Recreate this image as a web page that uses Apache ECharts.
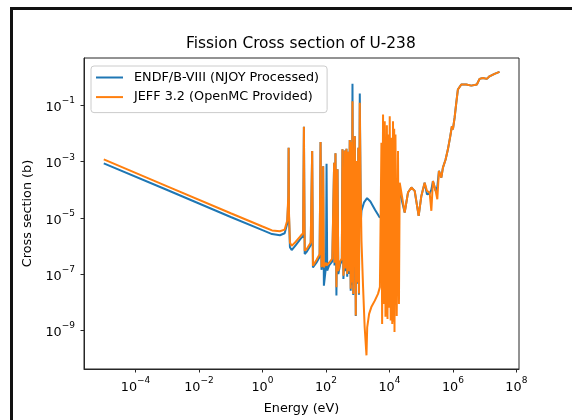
<!DOCTYPE html>
<html>
<head>
<meta charset="utf-8">
<script src="https://cdn.jsdelivr.net/npm/echarts@6/dist/echarts.min.js"></script>
<style>
html,body{margin:0;padding:0;background:#ffffff;}
#chart{width:572px;height:420px;}
</style>
</head>
<body>
<div id="chart"></div>
<script>
// ---------------- data ----------------
const seriesNames = ['ENDF/B-VIII (NJOY Processed)', 'JEFF 3.2 (OpenMC Provided)'];

// Energy (eV) and fission cross section (b), ENDF/B-VIII
const endfEnergy = [1e-5, 1e-3, 0.1, 1, 2.0, 3.55, 5.0, 6.03, 6.53, 6.67, 6.84, 7.33, 8.32, 11.2, 15.8, 19.1, 20.2, 21.4, 25.1, 33.1,
  36.8, 38.9, 50.1, 63.1, 67.6, 72.4, 79.4, 81.7, 86.1, 100, 104.5, 109.6, 125.9, 158.5, 181.1, 186.2, 190.5, 199.5, 213.8, 231.2,
  245.5, 281.8, 316.2, 331.1, 354.8, 375.8, 389.0, 412.1, 443.6, 467.7, 501.2, 524.8, 562.3, 602.6, 631.0, 653.1, 685.5, 724.4, 812.8, 871.0,
  916.2, 1000, 1047, 1096, 1164, 1259, 1318, 1585, 1977, 2512, 3548, 4955, 7943, 12970, 18620, 21090, 30270, 38460, 49200, 62520,
  83370, 101400, 128800, 152100, 184900, 209400, 235000, 285800, 322800, 363100, 431500, 485300, 588800, 696600, 827900, 931100, 1.0e6, 1.13e6, 1.28e6, 1.435e6,
  1.837e6, 2.636e6, 3.793e6, 5.689e6, 6.918e6, 8.77e6, 1.172e7, 1.426e7, 2.046e7, 2.944e7];
const endfXS = [8.71e-4, 9.77e-5, 1.07e-5, 3.63e-6, 2.63e-6, 2.40e-6, 2.82e-6, 6.31e-6, 5.01e-5, 3.16e-3, 1.26e-5, 8.91e-7, 7.08e-7, 1.07e-6, 1.78e-6, 2.24e-6, 1.74e-2, 5.13e-7, 6.31e-7, 1.05e-6,
  2.40e-3, 1.70e-7, 2.51e-7, 3.98e-7, 5.01e-3, 1.41e-7, 3.16e-7, 6.92e-4, 3.80e-8, 1.78e-7, 8.51e-4, 1.32e-7, 2.0e-7, 2.82e-7, 9.12e-4, 2.0e-7, 3.98e-7, 2.0e-3, 1.70e-8, 5.37e-4,
  1.0e-7, 2.24e-7, 2.82e-7, 2.75e-3, 6.61e-8, 2.5e-7, 2.51e-3, 1.26e-7, 2.88e-3, 7.94e-8, 2.24e-3, 1.0e-7, 5.89e-3, 2.51e-8, 5.01e-3, 4.0e-8, 0.603, 1.78e-8, 8.13e-3, 3.16e-9,
  1.05e-3, 4.47e-8, 3.16e-3, 1.8e-8, 0.269, 7.94e-6, 1.78e-5, 3.55e-5, 5.01e-5, 3.80e-5, 1.91e-5, 1.02e-5, 1.78e-5, 3.47e-5, 1.55e-4, 1.78e-4, 1.55e-5, 7.94e-5, 1.20e-4, 9.12e-5,
  1.17e-5, 6.03e-5, 1.78e-4, 6.92e-5, 7.24e-5, 1.0e-4, 2.04e-4, 9.12e-5, 1.26e-4, 4.68e-4, 2.69e-4, 6.17e-4, 1.20e-3, 2.75e-3, 8.13e-3, 1.86e-2, 1.41e-2, 3.63e-2, 0.126, 0.372,
  0.562, 0.562, 0.513, 0.562, 0.891, 0.955, 0.891, 1.10, 1.35, 1.58];

// Energy (eV) and fission cross section (b), JEFF 3.2
const jeffEnergy = [1e-5, 1e-3, 0.1, 1, 2.0, 3.55, 5.0, 6.03, 6.53, 6.67, 6.84, 7.33, 8.32, 11.2, 15.8, 19.1, 20.2, 21.4, 25.1, 33.1,
  36.8, 38.9, 50.1, 63.1, 67.6, 72.4, 79.4, 81.7, 85.1, 100, 104.7, 125.9, 158.5, 181.1, 186.2, 190.5, 199.5, 213.8, 231.2, 245.5,
  281.8, 316.2, 331.1, 354.8, 375.8, 389.0, 412.1, 443.6, 467.7, 501.2, 524.8, 562.3, 602.6, 631.0, 653.1, 685.5, 724.4, 812.8, 871.0, 916.2,
  1000, 1047, 1096, 1164, 1230, 1318, 1479, 1660, 1892, 1995, 2291, 2692, 3467, 4365, 5012, 5598, 5888, 6295, 6761, 7112,
  7500, 8318, 8710, 9036, 9550, 10230, 10960, 11560, 12300, 12970, 13800, 14125, 14450, 15490, 16980, 18620, 19950, 21090, 30270, 38460,
  49200, 62520, 83370, 101400, 128800, 152100, 184900, 209400, 235000, 285800, 322800, 363100, 431500, 485300, 588800, 696600, 827900, 931100, 1.0e6, 1.13e6,
  1.28e6, 1.435e6, 1.837e6, 2.636e6, 3.793e6, 5.689e6, 6.918e6, 8.77e6, 1.172e7, 1.426e7, 2.046e7, 2.944e7];
const jeffXS = [1.21e-3, 1.32e-4, 1.45e-5, 4.9e-6, 3.55e-6, 3.31e-6, 3.8e-6, 7.94e-6, 6.31e-5, 3.16e-3, 1.58e-5, 1.32e-6, 1.0e-6, 1.41e-6, 2.24e-6, 2.82e-6, 1.74e-2, 6.76e-7, 7.94e-7, 1.32e-6,
  2.40e-3, 1.95e-7, 3.16e-7, 5.01e-7, 5.01e-3, 1.74e-7, 3.98e-7, 6.92e-4, 1.74e-7, 2.51e-7, 2.0e-7, 2.51e-7, 3.55e-7, 9.12e-4, 2.5e-7, 5.01e-7, 2.0e-3, 3.39e-8, 5.37e-4, 1.26e-7,
  2.82e-7, 3.55e-7, 2.75e-3, 8.71e-8, 3.2e-7, 2.51e-3, 1.58e-7, 2.88e-3, 1.0e-7, 2.24e-3, 1.26e-7, 5.89e-3, 2.95e-8, 5.01e-3, 5.0e-8, 0.141, 1.95e-8, 8.13e-3, 3.31e-9, 1.05e-3,
  5.01e-8, 3.16e-3, 2.0e-8, 0.126, 1.55e-4, 1.51e-6, 3.39e-8, 1.26e-9, 1.26e-10, 1.26e-9, 3.80e-9, 6.61e-9, 1.12e-8, 1.95e-8, 3.39e-8, 4.68e-3, 1.66e-9, 4.79e-2, 8.51e-9, 2.75e-2,
  3.0e-9, 2.0e-2, 2.5e-9, 9.33e-3, 6.31e-9, 4.17e-2, 2.19e-9, 7.08e-3, 1.66e-9, 2.75e-2, 2.0e-9, 1.5e-2, 8.51e-10, 9.33e-3, 3.16e-9, 2.40e-3, 8.51e-9, 1.78e-4, 1.55e-5, 7.94e-5,
  1.20e-4, 9.12e-5, 1.17e-5, 6.03e-5, 1.78e-4, 9.12e-5, 7.94e-5, 1.78e-5, 2.04e-4, 9.12e-5, 4.57e-5, 4.68e-4, 2.69e-4, 6.17e-4, 1.20e-3, 2.75e-3, 8.13e-3, 1.86e-2, 1.41e-2, 3.63e-2,
  0.126, 0.372, 0.562, 0.562, 0.513, 0.562, 0.891, 0.955, 0.891, 1.10, 1.35, 1.58];

// tick positions (decades) shown on the axes
const xTicks = [1e-4, 1e-2, 1, 1e2, 1e4, 1e6, 1e8];
const yTicks = [1e-9, 1e-7, 1e-5, 1e-3, 1e-1];

// ---------------- chart ----------------
const FONT = 'DejaVu Sans';
const INK = '#262626';

function zip(xs, ys) { return xs.map(function (x, i) { return [x, ys[i]]; }); }
function powLabel(v) {
  const p = Math.round(Math.log10(v));
  return '{b|10}{s|' + (p < 0 ? '\u2212' : '') + Math.abs(p) + '}';
}
const richLabel = {
  b: { fontFamily: FONT, fontSize: 12.8, color: '#000', lineHeight: 18, verticalAlign: 'bottom' },
  s: { fontFamily: FONT, fontSize: 9, color: '#000', lineHeight: 11, verticalAlign: 'top' }
};

const chart = echarts.init(document.getElementById('chart'), null, { renderer: 'canvas' });
chart.setOption({
  animation: false,
  backgroundColor: '#ffffff',
  title: {
    text: 'Fission Cross section of U-238',
    left: 186, top: 36,
    padding: 0,
    textStyle: { fontFamily: FONT, fontSize: 15.4, fontWeight: 'normal', color: '#000' }
  },
  grid: { left: 84, top: 58, width: 435, height: 312, show: true, borderColor: INK, borderWidth: 1, backgroundColor: 'transparent', containLabel: false },
  legend: {
    orient: 'vertical', left: 91, top: 66,
    itemWidth: 27, itemHeight: 14, itemGap: 6.6,
    padding: [5, 8, 9, 4],
    backgroundColor: 'rgba(255,255,255,0.8)', borderColor: '#cccccc', borderWidth: 1, borderRadius: 3,
    itemStyle: { opacity: 0, borderWidth: 0 },
    lineStyle: { width: 2, opacity: 1 },
    textStyle: { fontFamily: FONT, fontSize: 12.8, color: '#000', padding: [0, 0, 0, 6] },
    data: seriesNames
  },
  xAxis: {
    type: 'log', logBase: 10,
    min: 2.38e-6, max: 1.21e8,
    name: 'Energy (eV)', nameLocation: 'middle', nameGap: 33,
    nameTextStyle: { fontFamily: FONT, fontSize: 12.8, color: '#000' },
    axisLine: { show: true, lineStyle: { color: INK, width: 1 } },
    axisTick: { show: true, inside: false, length: 3.5, lineStyle: { color: INK, width: 1 }, customValues: xTicks },
    axisLabel: { show: true, customValues: xTicks, formatter: powLabel, margin: 7, rich: richLabel },
    minorTick: { show: false },
    splitLine: { show: false }
  },
  yAxis: {
    type: 'log', logBase: 10,
    min: 4.11e-11, max: 4.94,
    name: 'Cross section (b)', nameLocation: 'middle', nameGap: 36,
    nameTextStyle: { fontFamily: FONT, fontSize: 12.8, color: '#000' },
    axisLine: { show: true, lineStyle: { color: INK, width: 1 } },
    axisTick: { show: true, inside: false, length: 3.5, lineStyle: { color: INK, width: 1 }, customValues: yTicks },
    axisLabel: { show: true, customValues: yTicks, formatter: powLabel, margin: 9, rich: richLabel },
    minorTick: { show: false },
    splitLine: { show: false }
  },
  series: [
    {
      name: seriesNames[0], type: 'line', data: zip(endfEnergy, endfXS),
      symbol: 'none', showSymbol: false, clip: true, z: 2,
      lineStyle: { width: 2, color: '#1f77b4' }, itemStyle: { color: '#1f77b4' }
    },
    {
      name: seriesNames[1], type: 'line', data: zip(jeffEnergy, jeffXS),
      symbol: 'none', showSymbol: false, clip: true, z: 3,
      lineStyle: { width: 2, color: '#ff7f0e' }, itemStyle: { color: '#ff7f0e' }
    }
  ],
  graphic: [
    { type: 'rect', shape: { x: 10, y: 7, width: 562, height: 3 }, style: { fill: '#111' }, silent: true },
    { type: 'rect', shape: { x: 10, y: 7, width: 3, height: 413 }, style: { fill: '#111' }, silent: true }
  ]
});
</script>
</body>
</html>
